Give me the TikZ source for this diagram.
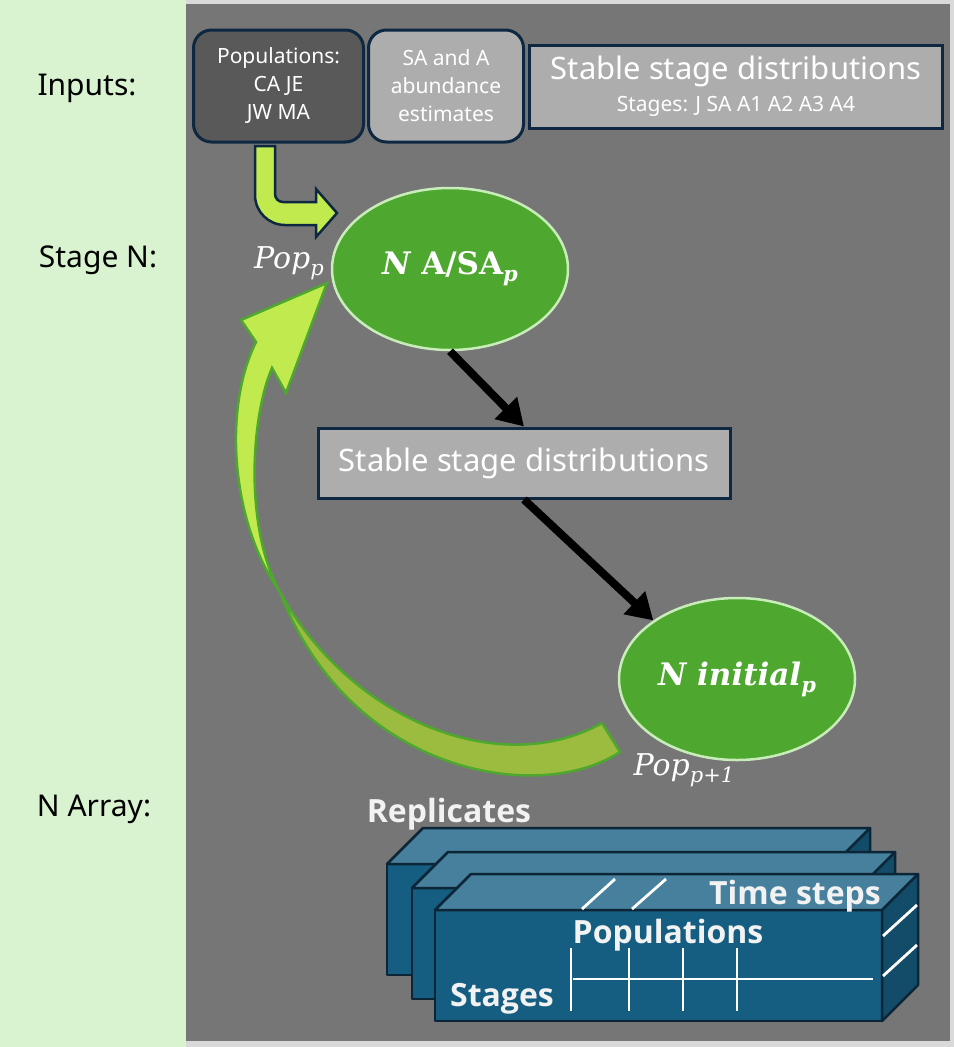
\documentclass[tikz,border=0pt]{standalone}
\usepackage{fontspec}
\setmainfont{Noto Sans}
\newfontfamily\boldsans{Open Sans}
\newfontfamily\popserif{DejaVu Serif}
\usetikzlibrary{arrows.meta,shapes.geometric,positioning}

\definecolor{panelgray}{HTML}{767676}
\definecolor{panelgreen}{HTML}{D9F2D0}
\definecolor{edgegray}{HTML}{D9D9D9}
\definecolor{navy}{HTML}{0E2841}
\definecolor{darkbox}{HTML}{595959}
\definecolor{lightbox}{HTML}{ADADAD}
\definecolor{popgreen}{HTML}{4EA72E}
\definecolor{poprim}{HTML}{C9EDBA}
\definecolor{lime}{HTML}{C1EA4F}
\definecolor{olive}{HTML}{9BBC3F}
\definecolor{cubefront}{HTML}{165E81}
\definecolor{cubetop}{HTML}{46809D}
\definecolor{cubeside}{HTML}{134C68}
\definecolor{cubeedge}{HTML}{0C2637}

% lowered subscript for the serif labels
\newcommand{\popsub}[1]{\raisebox{-7pt}{\fontsize{21}{21}\selectfont #1}}

\tikzset{
rowlabel/.style = {font=\fontsize{30}{36}\selectfont, text=black, anchor=base, inner sep=0pt},
inbox/.style = {rectangle, rounded corners=18pt, draw=navy, line width=3pt,
                text=white, align=center, font=\fontsize{21}{28}\selectfont,
                minimum height=112pt, inner sep=0pt},
stagebox/.style = {rectangle, draw=navy, line width=3pt, fill=lightbox,
                   text=white, align=center, inner sep=0pt},
popnode/.style = {ellipse, draw=poprim, line width=2.5pt, fill=popgreen, text=white,
                  minimum width=236pt, minimum height=162pt, inner sep=0pt,
                  font=\popserif\bfseries\fontsize{31}{36}\selectfont},
poplabel/.style = {text=white, font=\popserif\itshape\fontsize{30}{36}\selectfont, inner sep=0pt},
arraylabel/.style = {text=white!95!black, font=\boldsans\bfseries\fontsize{32}{38}\selectfont,
                     anchor=base, inner sep=0pt},
cubeface/.style = {draw=cubeedge, line width=2.5pt, line join=round},
gridline/.style = {white, line width=2.8pt},
flow/.style = {-{Triangle[length=26pt,width=30pt]}, line width=8pt, black}
}

\begin{document}
\begin{tikzpicture}[x=1pt,y=-1pt]
  \useasboundingbox (0,0) rectangle (954,1047);
  % panels
  \fill[edgegray] (0,0) rectangle (954,1047);
  \fill[panelgreen] (0,0) rectangle (186,1047);
  \fill[panelgray] (186,4) rectangle (950,1041);

  % row labels
  \node[rowlabel] (inLbl) at (87,95) {Inputs:};
  \node[rowlabel] (stageLbl) at (98,267) {Stage N:};
  \node[rowlabel] (arrLbl) at (94,816) {N Array:};

  % inputs
  \node[inbox, fill=darkbox, minimum width=170pt] (popBox) at (278.5,86) {Populations:\\CA JE\\JW MA};
  \node[inbox, fill=lightbox, minimum width=155pt] (abunBox) at (446,86) {SA and A\\abundance\\estimates};
  \node[stagebox, minimum width=413pt, minimum height=83pt, font=\fontsize{31}{36}\selectfont] (ssdBox) at (736,86.5)
       {Stable stage distributions\\[-4pt]{\fontsize{21}{24}\selectfont Stages: J SA A1 A2 A3 A4}};

  % bent arrow into stage N
  \draw[navy, line width=2.5pt, fill=lime]
    (255,146) -- (255,195) .. controls (255,211.6) and (268.4,225) .. (285,225)
    -- (316,225) -- (316,237) -- (337,213) -- (316,189) -- (316,202)
    -- (283,202) .. controls (278.6,202) and (275,198.4) .. (275,194) -- (275,146) -- cycle;

  % loop back arrow
  \draw[popgreen, line width=2.5pt, fill=olive, line join=round]
    (280,592) .. controls (350,720) and (500,780) .. (602,723) -- (620,752)
    .. controls (540,805) and (350,775) .. (280,592) -- cycle;
  \draw[popgreen, line width=2.5pt, fill=lime]
    (280,592) .. controls (232,525) and (222,410) .. (256,342) -- (241,320)
    -- (327,283) -- (286,393) -- (272,368) .. controls (250,420) and (245,530) .. (280,592) -- cycle;

  % stage N
  \node[popnode] (nasa) at (450,269) {{\itshape N} A/SA\popsub{\itshape p}};
  \node[poplabel] (popP) at (289,263) {Pop\popsub{p}};
  \node[stagebox, minimum width=412pt, minimum height=70pt, font=\fontsize{31}{36}\selectfont] (ssdMid) at (524,463) {Stable stage distributions};
  \node[popnode] (ninit) at (737,679) {\itshape N initial\popsub{p}};
  \node[poplabel] (popP1) at (684,770) {Pop\popsub{p+1}};

  \draw[flow] (nasa.south) -- (ssdMid.north);
  \draw[flow] (ssdMid.south) -- (ninit.145);

  % N array
  \foreach \bx/\by in {387/864, 412/888, 435/910} {
    \draw[cubeface, fill=cubefront] (\bx,\by) rectangle ++(447,111);
    \draw[cubeface, fill=cubetop] (\bx,\by) -- ++(36,-36) -- ++(447,0) -- ++(-36,36) -- cycle;
    \draw[cubeface, fill=cubeside] (\bx+447,\by) -- ++(36,-36) -- ++(0,111) -- ++(-36,36) -- cycle;
  }
  \draw[gridline] (582,909) -- (615,879);
  \draw[gridline] (632,909) -- (666,879);
  \draw[gridline] (883,936) -- (917,905);
  \draw[gridline] (883,976) -- (917,945);
  \foreach \gx in {571,629,683,737}
    \draw[gridline] (\gx,948) -- (\gx,1011);
  \draw[gridline] (573,979) -- (873,979);

  \node[arraylabel] (repLbl) at (449,822) {Replicates};
  \node[arraylabel] (timeLbl) at (795,904) {Time steps};
  \node[arraylabel] (popsLbl) at (668,943) {Populations};
  \node[arraylabel] (stgLbl) at (502,1006) {Stages};
\end{tikzpicture}
\end{document}
